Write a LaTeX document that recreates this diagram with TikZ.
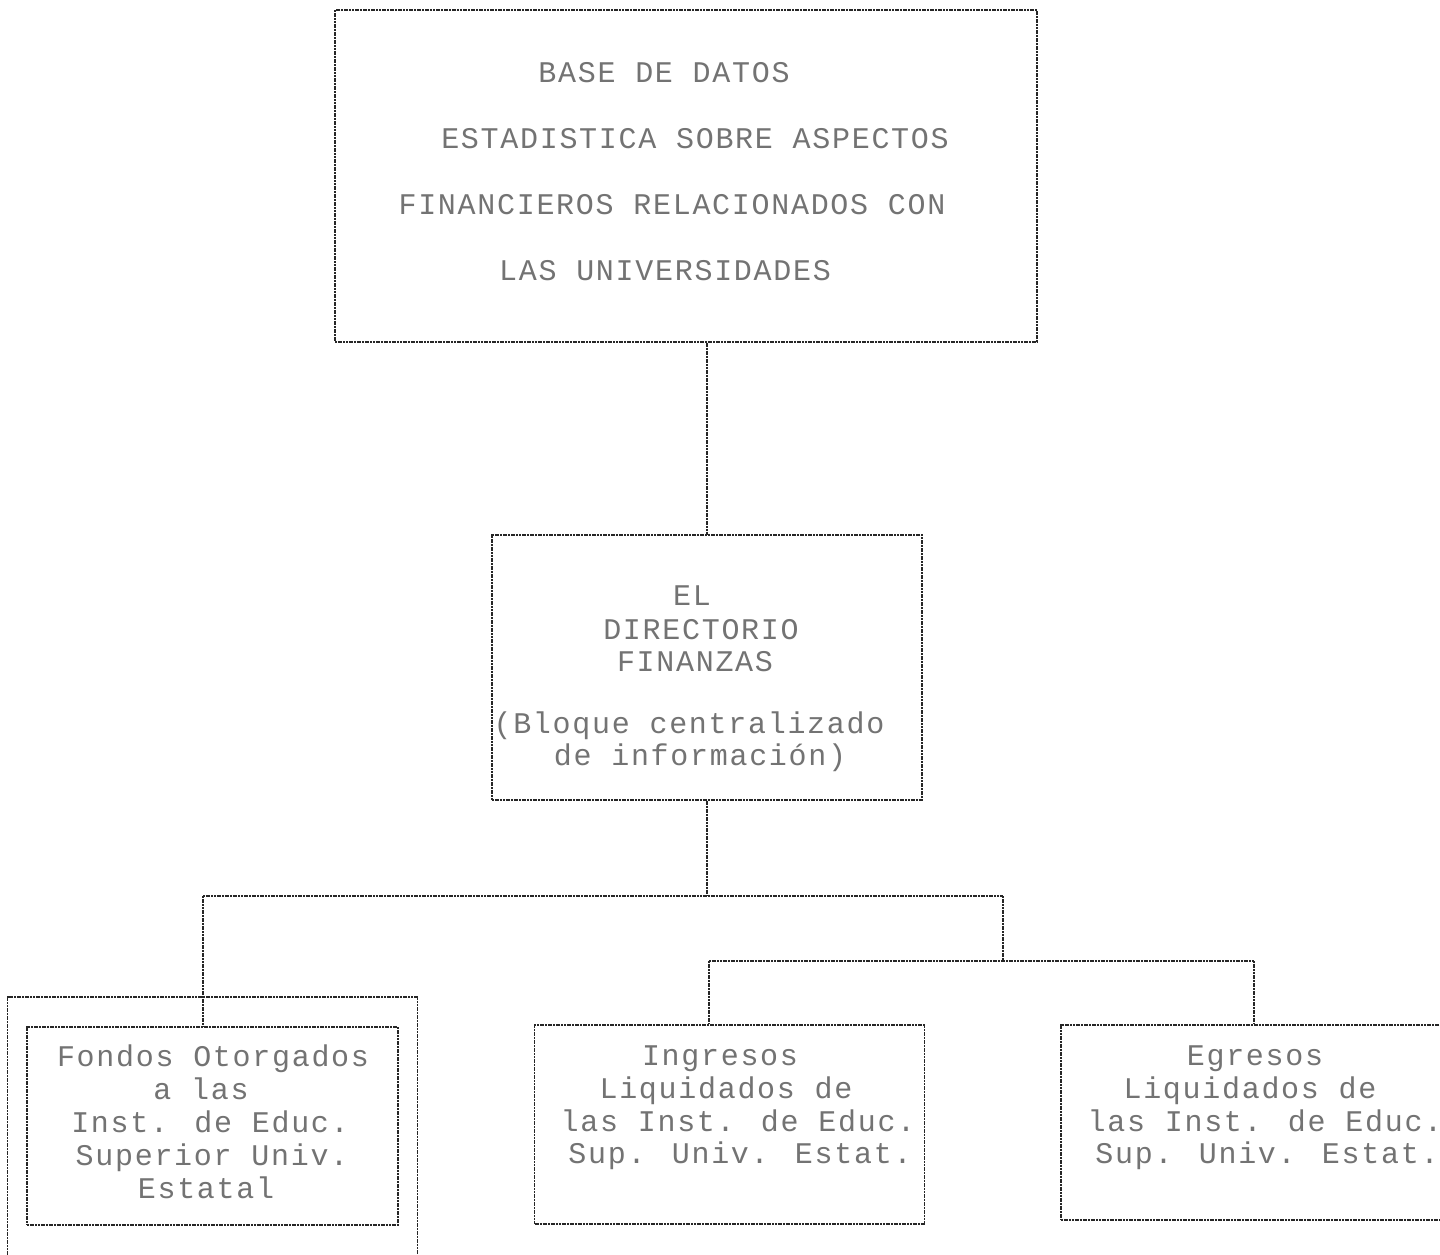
\documentclass[tikz,border=0pt]{standalone}
\usepackage{fontspec}
\newfontfamily\dotfont[LetterSpace=5.7]{Liberation Mono}
\begin{document}
\begin{tikzpicture}[x=1pt,y=-1pt,
  box/.style={draw=black!85, line width=1.1pt, dash pattern=on 2pt off 0.7pt, inner sep=0pt, rectangle},
  conn/.style={draw=black!85, line width=1.1pt, dash pattern=on 2pt off 0.7pt},
  txt/.style={anchor=base, inner sep=0pt, text=black!55, font=\dotfont\fontsize{30}{32}\selectfont}]
\useasboundingbox (0,0) rectangle (1440,1255);
\clip (0,0) rectangle (1440,1255);
% boxes
\node[box, minimum width=702pt, minimum height=332pt] (top) at (686,176) {};
\node[box, minimum width=430pt, minimum height=265pt] (mid) at (707,667.5) {};
\node[box, minimum width=410pt, minimum height=290pt] (outer) at (212.5,1142) {};
\node[box, minimum width=371pt, minimum height=198pt] (fondos) at (212.5,1126) {};
\node[box, minimum width=390pt, minimum height=199pt] (ingresos) at (729.5,1124.5) {};
\node[box, minimum width=390pt, minimum height=195pt] (egresos) at (1256,1122.5) {};
% top text
\node[txt] (t1) at (664,82) {BASE DE DATOS};
\node[txt] (t2) at (695,148) {ESTADISTICA SOBRE ASPECTOS};
\node[txt] (t3) at (672,214) {FINANCIEROS RELACIONADOS CON};
\node[txt] (t4) at (665,280) {LAS UNIVERSIDADES};
% middle text
\node[txt] (m1) at (692,605) {EL};
\node[txt] (m2) at (701,639) {DIRECTORIO};
\node[txt] (m3) at (695,671) {FINANZAS};
\node[txt] (m4) at (689,733) {(Bloque centralizado};
\node[txt] (m5) at (700,765) {de información)};
% left text
\node[txt] (f1) at (213,1066) {Fondos Otorgados};
\node[txt] (f2) at (201,1099) {a las};
\node[txt] (f3) at (210,1132) {Inst. de Educ.};
\node[txt] (f4) at (212,1165) {Superior Univ.};
\node[txt] (f5) at (206,1198) {Estatal};
% ingresos text
\node[txt] (i1) at (720,1065) {Ingresos};
\node[txt] (i2) at (726,1098) {Liquidados de};
\node[txt] (i3) at (738,1131) {las Inst. de Educ.};
\node[txt] (i4) at (740,1163) {Sup. Univ. Estat.};
% egresos text
\node[txt] (e1) at (1255,1065) {Egresos};
\node[txt] (e2) at (1250,1098) {Liquidados de};
\node[txt] (e3) at (1265,1131) {las Inst. de Educ.};
\node[txt] (e4) at (1267,1163) {Sup. Univ. Estat.};
% connectors
\coordinate (j1) at (707,896);
\coordinate (jl) at (203,896);
\coordinate (jr) at (1003,896);
\coordinate (j2) at (1003,961);
\coordinate (j2l) at (709,961);
\coordinate (j2r) at (1254,961);
\draw[conn] (top.south -| mid.north) -- (mid.north);
\draw[conn] (mid.south) -- (j1);
\draw[conn] (jl) -- (jr);
\draw[conn] (jl) -- (jl |- fondos.north);
\draw[conn] (jr) -- (j2);
\draw[conn] (j2l) -- (j2r);
\draw[conn] (j2l) -- (j2l |- ingresos.north);
\draw[conn] (j2r) -- (j2r |- egresos.north);
\end{tikzpicture}
\end{document}
